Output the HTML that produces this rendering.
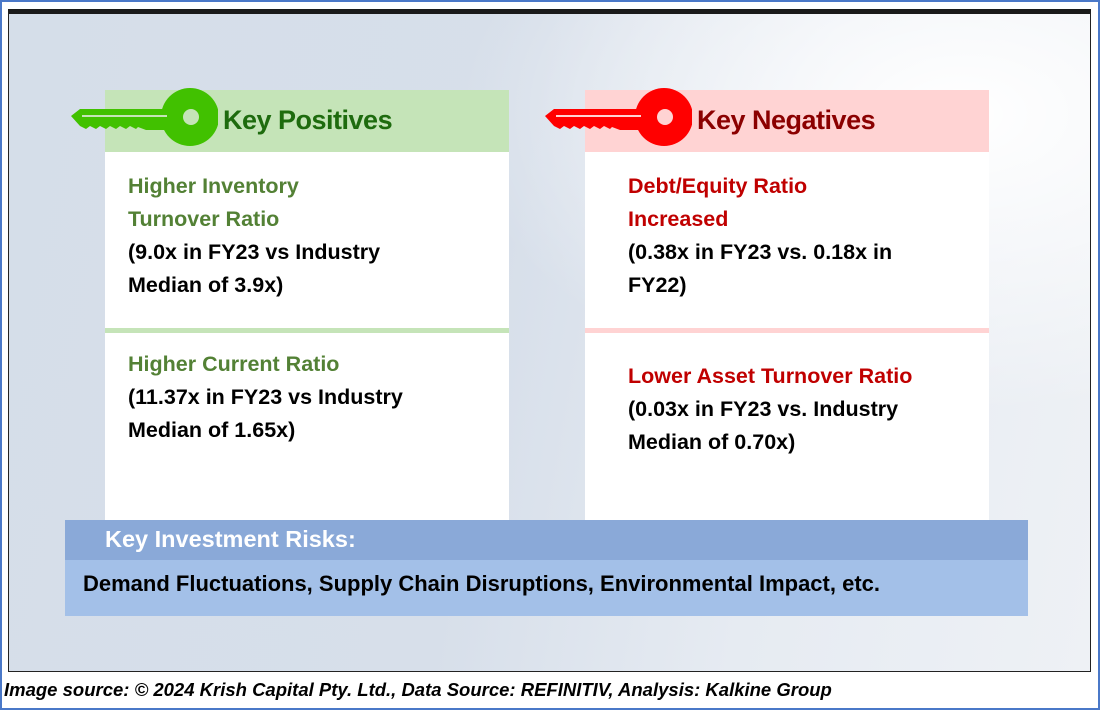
<!DOCTYPE html>
<html><head><meta charset="utf-8"><style>
*{margin:0;padding:0;box-sizing:border-box}
body{width:1100px;height:710px;background:#fff;position:relative;overflow:hidden;font-family:"Liberation Sans",sans-serif}
.abs{position:absolute}
#outer{left:0;top:0;width:1100px;height:710px;border:2px solid #4a78c8}
#frame{left:8px;top:9px;width:1083px;height:663px;border:1px solid #222;border-top:5px solid #1a1a1a;
background:radial-gradient(ellipse 500px 300px at 950px 100px,#ffffff 0%,rgba(255,255,255,0) 100%),linear-gradient(100deg,#d5dee9 0%,#d7dfea 45%,#e6ebf2 70%,#eef1f5 100%)}
.panel{background:#fff;width:404px;height:430px;top:90px}
.hdr{left:0;top:0;width:404px;height:62px}
.ttl{font-weight:bold;font-size:27px;top:15px;left:118px;letter-spacing:-0.5px}
.txt{font-weight:bold;font-size:21.5px;line-height:33px;left:23px;white-space:nowrap}
.div{left:0;top:238px;width:404px;height:5px}
.g{color:#538135}.r{color:#c00000}
</style></head><body>
<div class="abs" id="outer"></div>
<div class="abs" id="frame"></div>

<div class="abs panel" style="left:105px">
 <div class="abs hdr" style="background:#c5e4b8"></div>
 <div class="abs ttl" style="color:#1e6b0e">Key Positives</div>
 <div class="abs txt" style="top:80px"><span class="g">Higher Inventory<br>Turnover Ratio</span><br>(9.0x in FY23 vs Industry<br>Median of 3.9x)</div>
 <div class="abs div" style="background:#c5e4b8"></div>
 <div class="abs txt" style="top:258px"><span class="g">Higher Current Ratio</span><br>(11.37x in FY23 vs Industry<br>Median of 1.65x)</div>
</div>

<div class="abs panel" style="left:585px">
 <div class="abs hdr" style="background:#ffd3d3"></div>
 <div class="abs ttl" style="color:#8b0000;left:112px">Key Negatives</div>
 <div class="abs txt" style="top:80px;left:43px"><span class="r">Debt/Equity Ratio<br>Increased</span><br>(0.38x in FY23 vs. 0.18x in<br>FY22)</div>
 <div class="abs div" style="background:#ffd3d3"></div>
 <div class="abs txt" style="top:270px;left:43px"><span class="r">Lower Asset Turnover Ratio</span><br>(0.03x in FY23 vs. Industry<br>Median of 0.70x)</div>
</div>

<svg class="abs" style="left:68px;top:86px" width="150" height="64">
 <circle cx="122" cy="31" r="29" fill="#41c100"/><circle cx="123" cy="31" r="8" fill="#c5e4b8"/>
 <polygon points="3,30 12,23 100,23 100,44 78,44 70,41 68,43 62,40 58,43 52,40 48,43 42,40 38,43 32,40 28,43 22,40 18,43 12,40" fill="#41c100"/>
 <rect x="14" y="29" width="85" height="2" fill="#c5e4b8"/>
</svg>
<svg class="abs" style="left:542px;top:86px" width="150" height="64">
 <circle cx="122" cy="31" r="29" fill="#ff0000"/><circle cx="123" cy="31" r="8" fill="#ffd3d3"/>
 <polygon points="3,30 12,23 100,23 100,44 78,44 70,41 68,43 62,40 58,43 52,40 48,43 42,40 38,43 32,40 28,43 22,40 18,43 12,40" fill="#ff0000"/>
 <rect x="14" y="29" width="85" height="2" fill="#ffd3d3"/>
</svg>

<div class="abs" style="left:65px;top:520px;width:963px;height:40px;background:#8aa9d8"></div>
<div class="abs" style="left:105px;top:526px;color:#fff;font-weight:bold;font-size:23.5px;white-space:nowrap">Key Investment Risks:</div>
<div class="abs" style="left:65px;top:560px;width:963px;height:56px;background:#a3c0e8"></div>
<div class="abs" style="left:83px;top:571px;color:#000;font-weight:bold;font-size:22px;white-space:nowrap">Demand Fluctuations, Supply Chain Disruptions, Environmental Impact, etc.</div>

<div class="abs" style="left:4px;top:679px;font-weight:bold;font-style:italic;font-size:18.5px;white-space:nowrap">Image source: © 2024 Krish Capital Pty. Ltd., Data Source: REFINITIV, Analysis: Kalkine Group</div>
</body></html>
